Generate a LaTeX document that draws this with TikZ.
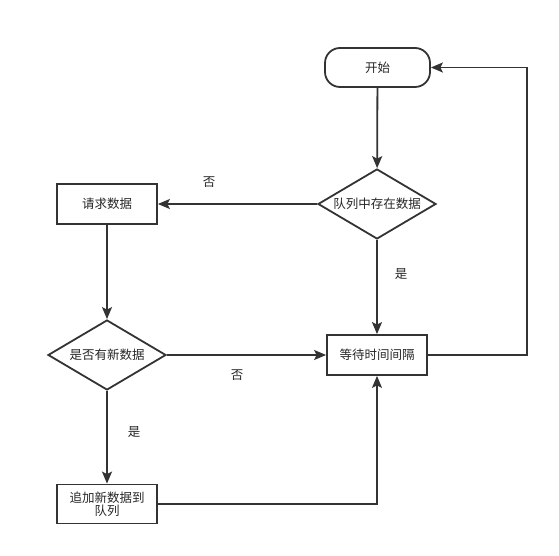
\documentclass[tikz,border=0pt]{standalone}
\usepackage{fontspec}
\setmainfont{Noto Sans CJK SC}
\usetikzlibrary{arrows.meta,shapes.geometric}

\begin{document}
\begin{tikzpicture}[
  x=1pt, y=1pt,
  font=\fontsize{12.5}{15}\selectfont,
  box/.style={draw=black!80, line width=1.8pt, align=center, minimum width=100pt, minimum height=40pt, inner sep=2pt, text=black!85},
  startbox/.style={box, rounded corners=15pt, minimum width=105pt, minimum height=39pt},
  decision/.style={draw=black!80, line width=1.8pt, diamond, shape aspect=1.69, minimum width=118pt, minimum height=70pt, inner sep=0pt, text=black!85},
  arrow/.style={-{Stealth[length=12pt, width=10pt, inset=2.5pt]}, line width=1.8pt, draw=black!80},
  lbl/.style={text=black!85}
]
\useasboundingbox (0,0) rectangle (559,556);

\node[startbox] (start) at (377.5,488.5) {开始};
\node[decision] (hasdata) at (377,352) {队列中存在数据};
\node[box] (request) at (107,352) {请求数据};
\node[decision] (newdata) at (107,201) {是否有新数据};
\node[box] (wait) at (377,201) {等待时间间隔};
\node[box, minimum height=39pt] (append) at (107,52) {追加新数据到\\[-2pt]队列};

\draw[arrow] (start) -- (hasdata);
\draw[arrow] (hasdata) -- (request);
\draw[arrow] (hasdata) -- (wait);
\draw[arrow] (request) -- (newdata);
\draw[arrow] (newdata) -- (wait);
\draw[arrow] (newdata) -- (append);
\draw[arrow] (append.east) -| (wait.south);
\draw[arrow] (wait.east) -- ++(99,0) |- (start.east);

\node[lbl] (no1) at (209,374) {否};
\node[lbl] (yes1) at (401,282) {是};
\node[lbl] (no2) at (237,181) {否};
\node[lbl] (yes2) at (134,124) {是};

\end{tikzpicture}
\end{document}
